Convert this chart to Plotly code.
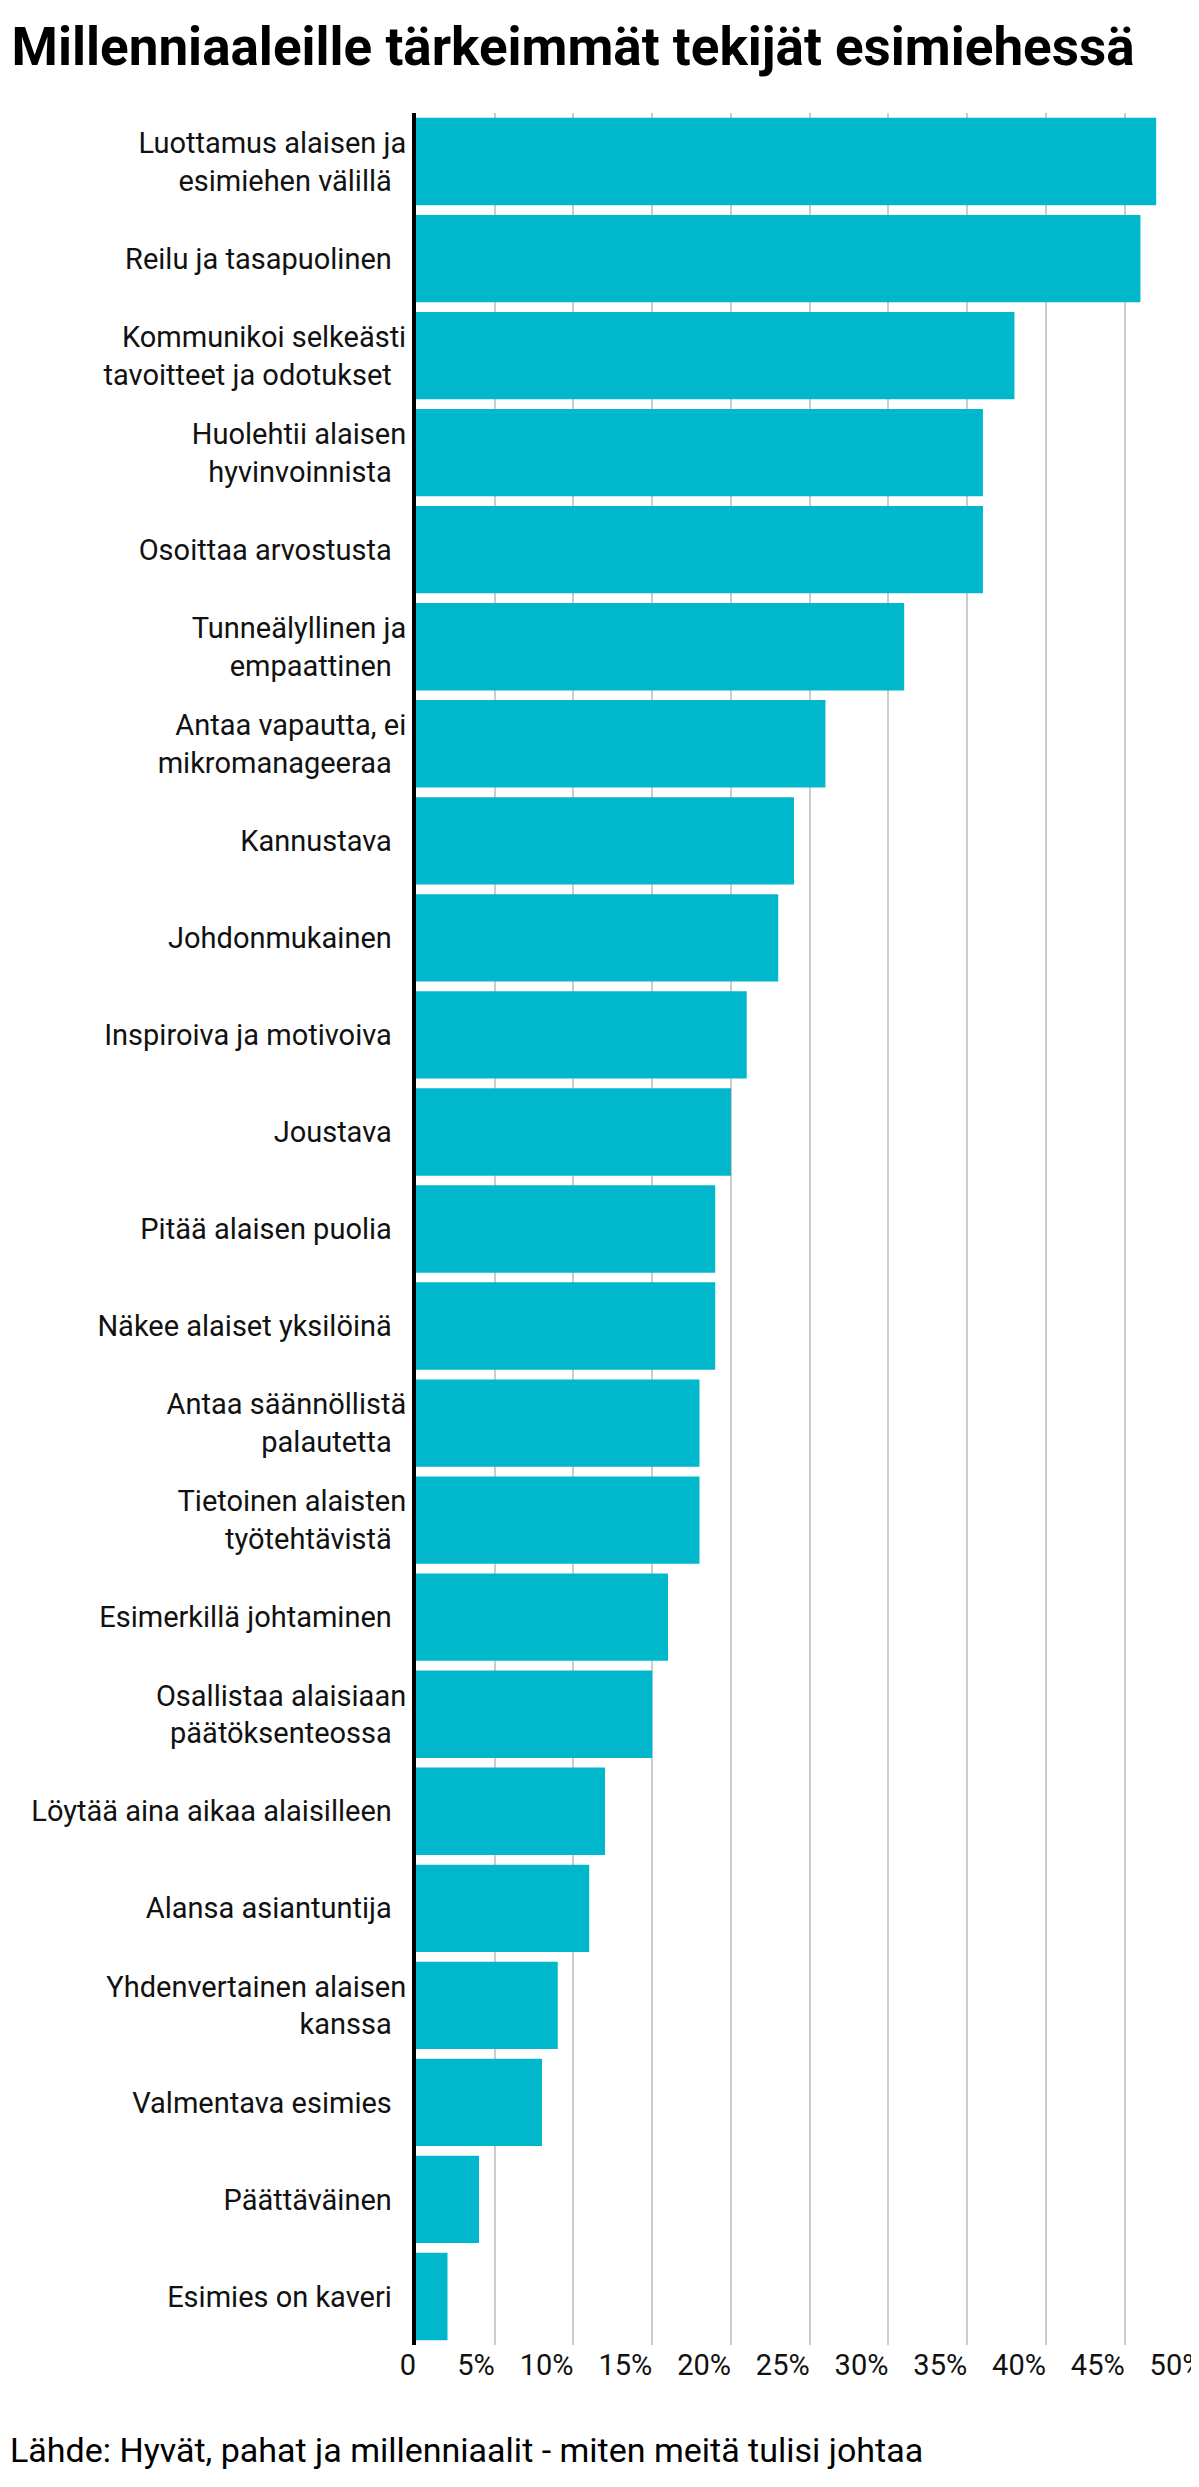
import plotly.graph_objects as go

categories = [
    "Luottamus alaisen ja<br>esimiehen välillä",
    "Reilu ja tasapuolinen",
    "Kommunikoi selkeästi<br>tavoitteet ja odotukset",
    "Huolehtii alaisen<br>hyvinvoinnista",
    "Osoittaa arvostusta",
    "Tunneälyllinen ja<br>empaattinen",
    "Antaa vapautta, ei<br>mikromanageeraa",
    "Kannustava",
    "Johdonmukainen",
    "Inspiroiva ja motivoiva",
    "Joustava",
    "Pitää alaisen puolia",
    "Näkee alaiset yksilöinä",
    "Antaa säännöllistä<br>palautetta",
    "Tietoinen alaisten<br>työtehtävistä",
    "Esimerkillä johtaminen",
    "Osallistaa alaisiaan<br>päätöksenteossa",
    "Löytää aina aikaa alaisilleen",
    "Alansa asiantuntija",
    "Yhdenvertainen alaisen<br>kanssa",
    "Valmentava esimies",
    "Päättäväinen",
    "Esimies on kaveri",
]
values = [47, 46, 38, 36, 36, 31, 26, 24, 23, 21, 20, 19, 19, 18, 18, 16, 15, 12, 11, 9, 8, 4, 2]
tick_vals = [0, 5, 10, 15, 20, 25, 30, 35, 40, 45, 50]
tick_text = ["0", "5%", "10%", "15%", "20%", "25%", "30%", "35%", "40%", "45%", "50%"]

font = "Liberation Sans Narrow, Roboto, sans-serif"

fig = go.Figure(go.Bar(
    x=values, y=categories, orientation="h",
    marker=dict(color="#00B7CC", line=dict(width=0)),
))

fig.update_layout(
    width=1199, height=2487,
    paper_bgcolor="white", plot_bgcolor="white",
    margin=dict(l=408, r=2, t=105, b=150),
    bargap=0.1,
    showlegend=False,
    font=dict(family=font, color="#111", size=29),
    title=dict(text="<b>Millenniaaleille tärkeimmät tekijät esimiehessä</b>",
               x=0.003, xanchor="left", y=0.992, yanchor="top",
               font=dict(family=font, size=53, color="#000")),
    xaxis=dict(range=[0, 50.1], tickvals=tick_vals, ticktext=tick_text,
               showgrid=True, gridcolor="#cccccc", gridwidth=2,
               ticklabelposition="outside left", ticks="", zeroline=False,
               tickfont=dict(size=29)),
    yaxis=dict(autorange="reversed", showline=True, linecolor="black", linewidth=4,
               ticks="", ticksuffix="  ", tickfont=dict(size=29)),
    annotations=[dict(text="Lähde: Hyvät, pahat ja millenniaalit - miten meitä tulisi johtaa",
                      xref="paper", yref="paper", x=-408/789, y=-0.037,
                      xanchor="left", yanchor="top", showarrow=False,
                      font=dict(size=34, color="#000"))],
)

fig.write_html("out.html")
